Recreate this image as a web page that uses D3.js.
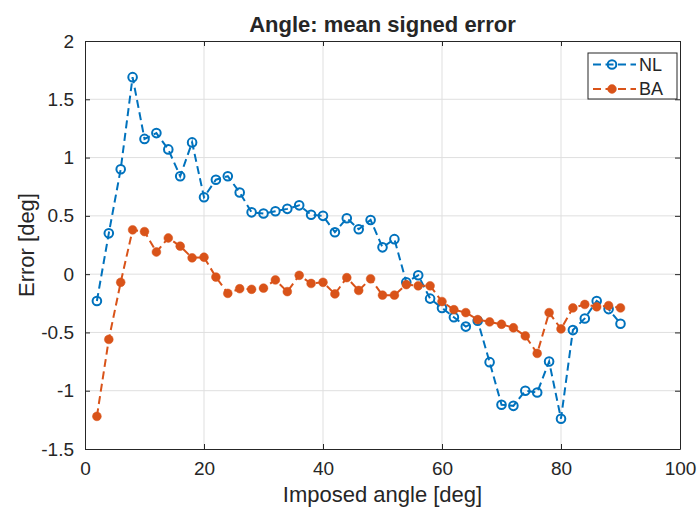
<!DOCTYPE html>
<html>
<head>
<meta charset="utf-8">
<script src="https://cdn.jsdelivr.net/npm/d3@7"></script>
<style>
  html, body { margin: 0; padding: 0; background: #ffffff; }
  svg text { font-family: "Liberation Sans", Arial, Helvetica, sans-serif; fill: #262626; }
</style>
</head>
<body>
<svg id="chart" width="697" height="508"></svg>
<script>
// Imposed angle (deg)
const angles = [2,4,6,8,10,12,14,16,18,20,22,24,26,28,30,32,34,36,38,40,42,44,46,48,50,
                52,54,56,58,60,62,64,66,68,70,72,74,76,78,80,82,84,86,88,90];
// Mean signed error, NL method (deg)
const nlError = [-0.23,0.35,0.90,1.69,1.16,1.21,1.07,0.84,1.13,0.66,0.81,0.84,0.70,0.53,0.52,
                 0.54,0.56,0.59,0.51,0.50,0.36,0.48,0.385,0.465,0.23,0.30,-0.07,-0.01,-0.21,-0.29,
                 -0.37,-0.45,-0.40,-0.755,-1.12,-1.13,-1.00,-1.015,-0.75,-1.24,-0.48,-0.38,-0.23,-0.30,-0.425];
// Mean signed error, BA method (deg)
const baError = [-1.22,-0.56,-0.07,0.38,0.365,0.19,0.31,0.24,0.14,0.145,-0.025,-0.165,-0.125,-0.13,-0.12,
                 -0.05,-0.15,-0.01,-0.08,-0.07,-0.17,-0.03,-0.14,-0.04,-0.18,-0.18,-0.09,-0.10,-0.10,-0.235,
                 -0.305,-0.33,-0.39,-0.41,-0.43,-0.46,-0.53,-0.68,-0.33,-0.47,-0.29,-0.26,-0.28,-0.27,-0.29];
const xTicks = [0,20,40,60,80,100];
const yTicks = [-1.5,-1,-0.5,0,0.5,1,1.5,2];
const seriesNames = ["NL","BA"];
const seriesColors = ["#0072BD","#D95319"];

const svg = d3.select("#chart");
const m = { left: 85, top: 41, right: 17, bottom: 59 };
const W = 697 - m.left - m.right;
const H = 508 - m.top - m.bottom;

const x = d3.scaleLinear().domain([0,100]).range([0,W]);
const y = d3.scaleLinear().domain([-1.5,2]).range([H,0]);

const g = svg.append("g").attr("transform", `translate(${m.left},${m.top})`);

// grid
g.append("g").selectAll("line").data(xTicks.slice(1,-1)).join("line")
  .attr("x1", d => x(d)).attr("x2", d => x(d)).attr("y1", 0).attr("y2", H)
  .attr("stroke", "#dfdfdf").attr("stroke-width", 1);
g.append("g").selectAll("line").data(yTicks.slice(1,-1)).join("line")
  .attr("y1", d => y(d)).attr("y2", d => y(d)).attr("x1", 0).attr("x2", W)
  .attr("stroke", "#dfdfdf").attr("stroke-width", 1);

// axes (ticks pointing inward on all four sides)
const axStyle = sel => {
  sel.select(".domain").attr("stroke", "#262626").attr("stroke-width", 1);
  sel.selectAll(".tick line").attr("stroke", "#262626");
  sel.selectAll("text").style("font-size", "19px").attr("fill", "#262626");
};
g.append("g").attr("transform", `translate(0,${H})`)
  .call(d3.axisBottom(x).tickValues(xTicks).tickSizeInner(-5).tickSizeOuter(0).tickPadding(13)
        .tickFormat(d3.format("d")))
  .call(axStyle);
g.append("g")
  .call(d3.axisTop(x).tickValues(xTicks).tickSizeInner(-5).tickSizeOuter(0).tickFormat(""))
  .call(axStyle);
g.append("g")
  .call(d3.axisLeft(y).tickValues(yTicks).tickSizeInner(-5).tickSizeOuter(0).tickPadding(11)
        .tickFormat(d => String(d)))
  .call(axStyle);
g.append("g").attr("transform", `translate(${W},0)`)
  .call(d3.axisRight(y).tickValues(yTicks).tickSizeInner(-5).tickSizeOuter(0).tickFormat(""))
  .call(axStyle);

// series
const series = [
  { name: seriesNames[0], values: nlError, color: seriesColors[0], filled: false },
  { name: seriesNames[1], values: baError, color: seriesColors[1], filled: true }
];
const line = d3.line().x((d,i) => x(angles[i])).y(d => y(d));

series.forEach(s => {
  const sg = g.append("g");
  sg.append("path").datum(s.values)
    .attr("d", line).attr("fill", "none")
    .attr("stroke", s.color).attr("stroke-width", 2)
    .attr("stroke-dasharray", "8,4.5");
  sg.selectAll("circle").data(s.values).join("circle")
    .attr("cx", (d,i) => x(angles[i])).attr("cy", d => y(d))
    .attr("r", s.filled ? 4.4 : 4.3)
    .attr("fill", s.filled ? s.color : "none")
    .attr("stroke", s.color).attr("stroke-width", s.filled ? 0.5 : 2);
});

// legend
const lg = svg.append("g").attr("transform", "translate(588,53)");
lg.append("rect").attr("width", 89).attr("height", 46)
  .attr("fill", "#ffffff").attr("stroke", "#262626").attr("stroke-width", 1);
series.forEach((s, i) => {
  const cy = 11.5 + i * 24.5;
  lg.append("line").attr("x1", 4).attr("x2", 48).attr("y1", cy).attr("y2", cy)
    .attr("stroke", s.color).attr("stroke-width", 2).attr("stroke-dasharray", "8,4.5")
    .attr("stroke-dashoffset", -1);
  lg.append("circle").attr("cx", 24).attr("cy", cy).attr("r", s.filled ? 4.4 : 4.3)
    .attr("fill", s.filled ? s.color : "none").attr("stroke", s.color)
    .attr("stroke-width", s.filled ? 0.5 : 2);
  lg.append("text").attr("x", 51).attr("y", cy).attr("dy", "0.36em")
    .style("font-size", "18px").text(s.name);
});

// labels
svg.append("text").attr("x", m.left + W/2).attr("y", 31.5).attr("text-anchor", "middle")
  .style("font-size", "22px").style("font-weight", "bold").attr("fill", "#000").text("Angle: mean signed error");
svg.append("text").attr("x", m.left + W/2).attr("y", 502).attr("text-anchor", "middle")
  .style("font-size", "22px").text("Imposed angle [deg]");
svg.append("text").attr("transform", `translate(34,${m.top + H/2}) rotate(-90)`)
  .attr("text-anchor", "middle").style("font-size", "22px").text("Error [deg]");
</script>
</body>
</html>
